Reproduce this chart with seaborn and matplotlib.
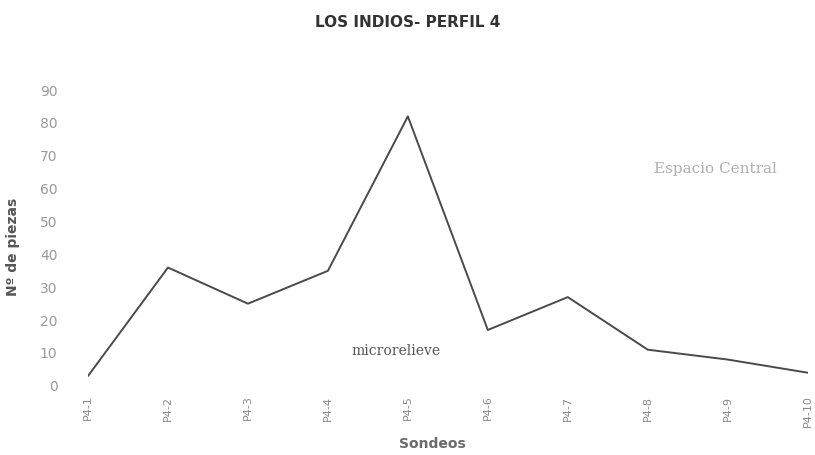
import matplotlib
matplotlib.use("Agg")
import matplotlib.pyplot as plt
import seaborn as sns
import pandas as pd

sondeos = ["P4-1", "P4-2", "P4-3", "P4-4", "P4-5", "P4-6", "P4-7", "P4-8", "P4-9", "P4-10"]
piezas = [3, 36, 25, 35, 82, 17, 27, 11, 8, 4]
yticks = [0, 10, 20, 30, 40, 50, 60, 70, 80, 90]

sns.set_theme(style="white")
plt.rcParams['font.family'] = ['DejaVu Sans']

df = pd.DataFrame({"Sondeos": sondeos, "piezas": piezas})

fig = plt.figure(figsize=(8.15, 4.55), dpi=100)
ax = fig.add_axes([0.108, 0.152, 0.883, 0.65])
sns.lineplot(data=df, x="Sondeos", y="piezas", ax=ax, color="#4a4a4a", linewidth=1.4, sort=False)

ax.set_xlim(0, len(sondeos) - 1)
ax.set_ylim(0, 90)
ax.set_yticks(yticks)
ax.set_yticklabels([str(v) for v in yticks], color="#9a9a9a", fontsize=10)
ax.set_xticks(range(len(sondeos)))
ax.set_xticklabels(sondeos, rotation=90, color="#8a8a8a", fontsize=8)
ax.tick_params(axis="y", pad=22, length=0)
ax.tick_params(axis="x", pad=7, length=0)
for s in ax.spines.values():
    s.set_visible(False)

ax.set_xlabel("Sondeos", fontsize=10, fontweight="bold", color="#6a6a6a")
ax.xaxis.set_label_coords(0.478, -0.172)
ax.set_ylabel("Nº de piezas", fontsize=10, fontweight="bold", color="#555555")
ax.yaxis.set_label_coords(-0.094, 0.47)
fig.text(0.5, 0.95, "LOS INDIOS- PERFIL 4", ha="center", va="center",
         fontsize=11, fontweight="bold", color="#333333")

ax.text(7.85, 66, "Espacio Central", fontsize=11, family="DejaVu Serif",
        color="#b0b0b0", ha="center", va="center")
ax.text(3.85, 10.5, "microrelieve", fontsize=10, family="DejaVu Serif",
        color="#555555", ha="center", va="center")

fig.savefig("out.png", dpi=100)
